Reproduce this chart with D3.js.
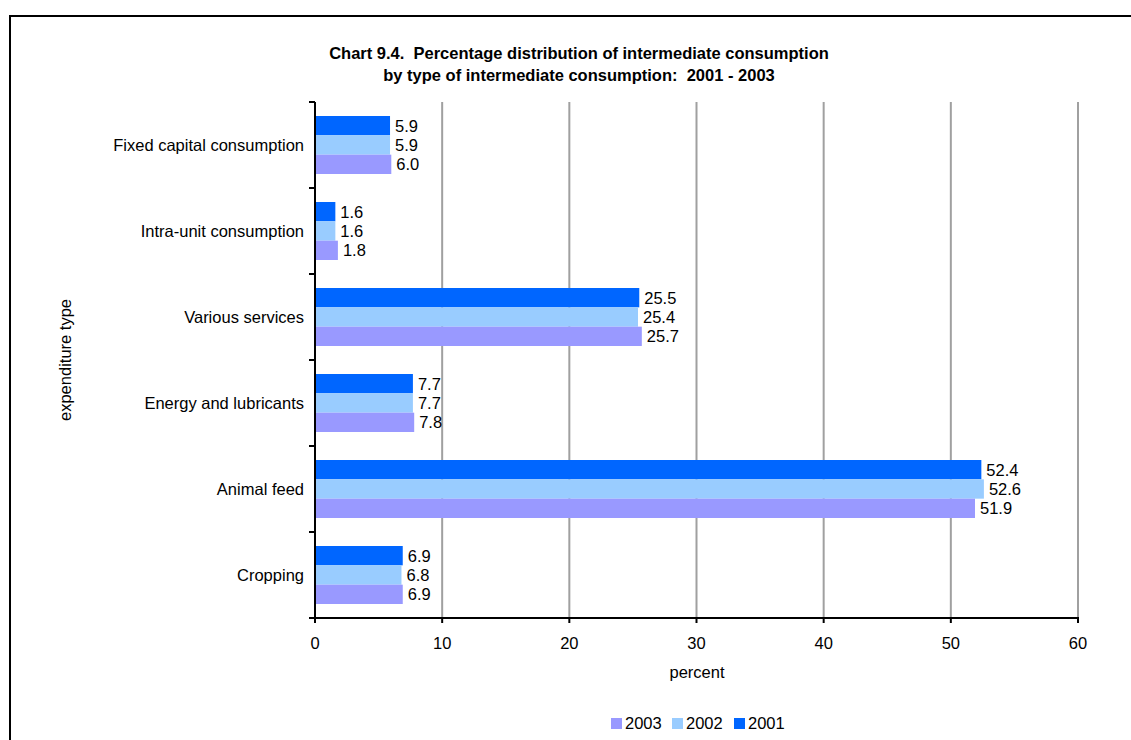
<!DOCTYPE html>
<html><head><meta charset="utf-8">
<script src="https://cdn.jsdelivr.net/npm/d3@7"></script>
<style>body{margin:0;background:#fff;} text{font-family:"Liberation Sans",Arial,sans-serif;fill:#000;}</style>
</head><body>
<svg id="c" width="1131" height="740"></svg>
<script>
const categories = ["Fixed capital consumption","Intra-unit consumption","Various services","Energy and lubricants","Animal feed","Cropping"];
const seriesNames = ["2001","2002","2003"];
const values2001 = [5.9,1.6,25.5,7.7,52.4,6.9];
const values2002 = [5.9,1.6,25.4,7.7,52.6,6.8];
const values2003 = [6.0,1.8,25.7,7.8,51.9,6.9];
const xTicks = [0,10,20,30,40,50,60];
const legendOrder = ["2003","2002","2001"];
const colors = {"2001":"#0066FF","2002":"#99CCFF","2003":"#9999FF"};
const seriesValues = {"2001":values2001,"2002":values2002,"2003":values2003};

const FS = 16.5;
const svg = d3.select("#c");
// frame
svg.append("path").attr("d","M10,740 V16 H1131").attr("fill","none").attr("stroke","#000").attr("stroke-width",2);

const pL=315, pR=1078, pT=102, pB=618;
const x = d3.scaleLinear().domain([0,60]).range([pL,pR]);
const y = d3.scaleBand().domain(categories).range([pT,pB]);
const inner = d3.scaleBand().domain(seriesNames).range([0,y.bandwidth()]).paddingOuter(0.724).paddingInner(0);

// gridlines
svg.append("g").selectAll("line").data(xTicks.filter(d=>d>0)).join("line")
  .attr("x1",d=>x(d)).attr("x2",d=>x(d)).attr("y1",pT).attr("y2",pB)
  .attr("stroke","#a0a0a0").attr("stroke-width",2);

// bars
const g = svg.append("g");
categories.forEach((c,i)=>{
  seriesNames.forEach(s=>{
    const v = seriesValues[s][i];
    const yy = y(c)+inner(s);
    g.append("rect").attr("x",x(0)).attr("y",yy).attr("width",x(v)-x(0)).attr("height",inner.bandwidth()).attr("fill",colors[s]);
    g.append("text").attr("x",x(v)+5).attr("y",yy+inner.bandwidth()/2).attr("dy","0.36em")
      .attr("font-size",FS).text(v.toFixed(1));
  });
});

// y axis
const ya = svg.append("g");
ya.append("line").attr("x1",pL).attr("x2",pL).attr("y1",pT).attr("y2",pB+1).attr("stroke","#000").attr("stroke-width",2);
const yTickPos = categories.map(c=>y(c)).concat([pB]);
ya.selectAll("line.t").data(yTickPos).join("line").attr("class","t")
  .attr("x1",pL-6).attr("x2",pL).attr("y1",d=>d).attr("y2",d=>d).attr("stroke","#000").attr("stroke-width",2);
ya.selectAll("text").data(categories).join("text")
  .attr("x",304).attr("y",d=>y(d)+y.bandwidth()/2).attr("dy","0.36em").attr("text-anchor","end").attr("font-size",FS).text(d=>d);

// x axis
const xa = svg.append("g");
xa.append("line").attr("x1",pL-6).attr("x2",pR+1).attr("y1",pB).attr("y2",pB).attr("stroke","#000").attr("stroke-width",2);
xa.selectAll("line.t").data(xTicks).join("line").attr("class","t")
  .attr("x1",d=>x(d)).attr("x2",d=>x(d)).attr("y1",pB).attr("y2",pB+5).attr("stroke","#000").attr("stroke-width",2);
xa.selectAll("text").data(xTicks).join("text")
  .attr("x",d=>x(d)).attr("y",643).attr("dy","0.36em").attr("text-anchor","middle").attr("font-size",FS).text(d=>d);

svg.append("text").attr("x",697).attr("y",672).attr("dy","0.36em").attr("text-anchor","middle").attr("font-size",FS).text("percent");
svg.append("text").attr("transform","translate(65,360) rotate(-90)").attr("dy","0.36em").attr("text-anchor","middle").attr("font-size",FS).text("expenditure type");

// title
svg.append("text").attr("x",579).attr("y",53).attr("dy","0.36em").attr("text-anchor","middle").attr("font-size",16.5).attr("font-weight","bold").attr("xml:space","preserve").text("Chart 9.4.  Percentage distribution of intermediate consumption");
svg.append("text").attr("x",579).attr("y",75).attr("dy","0.36em").attr("text-anchor","middle").attr("font-size",16.5).attr("font-weight","bold").attr("xml:space","preserve").text("by type of intermediate consumption:  2001 - 2003");

// legend
const lg = svg.append("g");
const lx = [611,672,734];
legendOrder.forEach((s,i)=>{
  lg.append("rect").attr("x",lx[i]).attr("y",718).attr("width",11).attr("height",11).attr("fill",colors[s]);
  lg.append("text").attr("x",lx[i]+14).attr("y",723.5).attr("dy","0.36em").attr("font-size",FS).text(s);
});
</script>
</body></html>
